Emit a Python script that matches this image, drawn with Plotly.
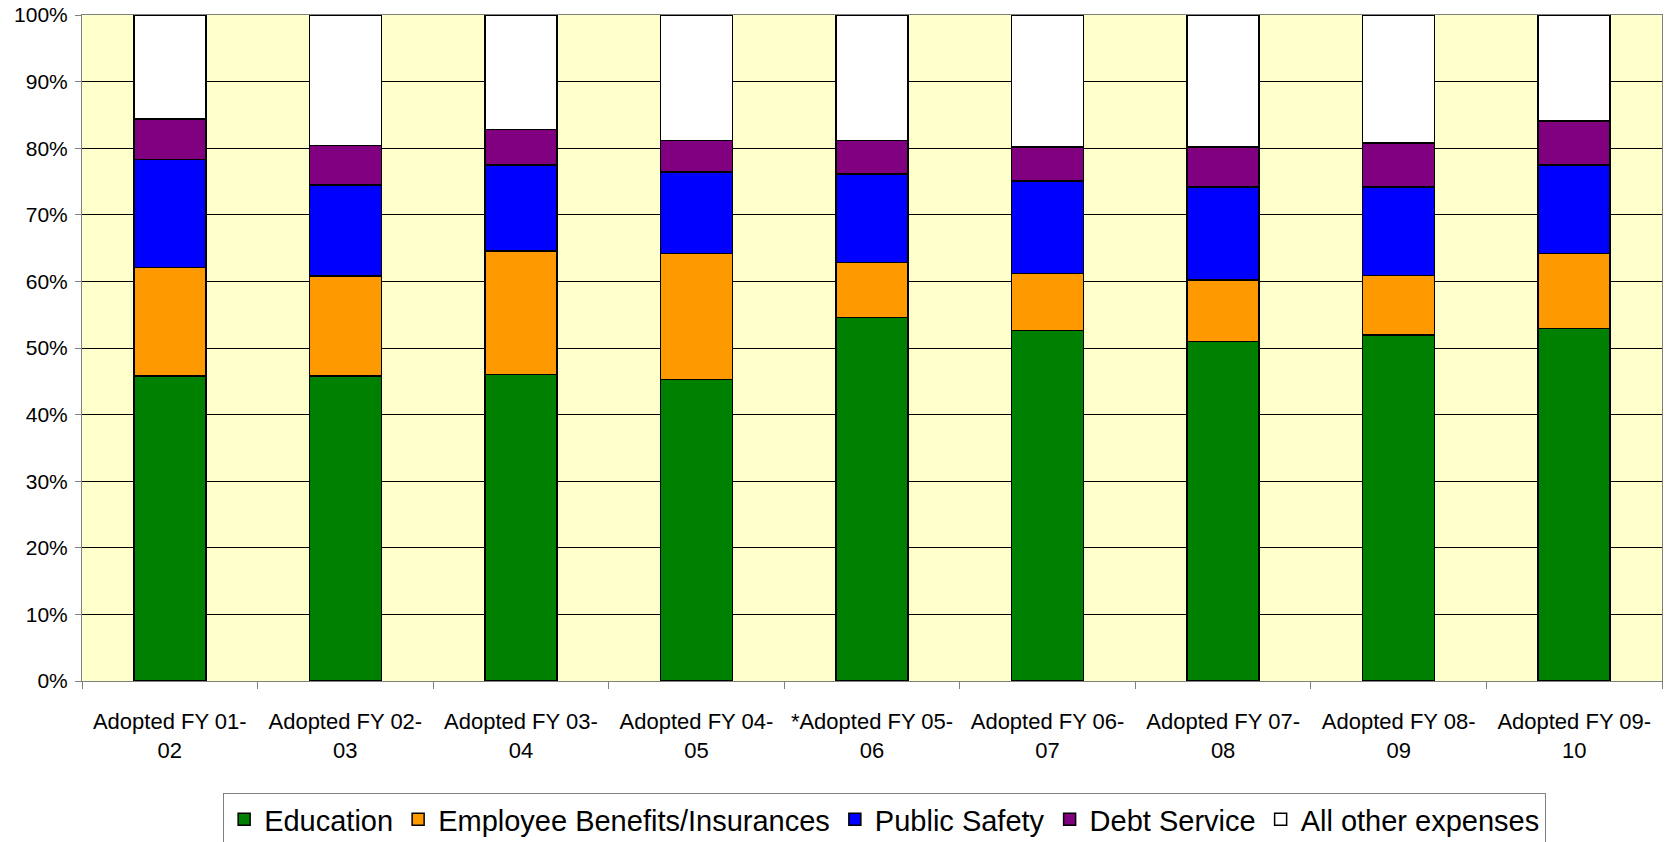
import plotly.graph_objects as go

categories = ["Adopted FY 01-<br>02", "Adopted FY 02-<br>03", "Adopted FY 03-<br>04",
              "Adopted FY 04-<br>05", "*Adopted FY 05-<br>06", "Adopted FY 06-<br>07",
              "Adopted FY 07-<br>08", "Adopted FY 08-<br>09", "Adopted FY 09-<br>10"]

education = [45.8, 45.8, 46.0, 45.3, 54.6, 52.6, 50.95, 51.95, 52.9]
benefits = [16.3, 15.0, 18.55, 18.9, 8.25, 8.6, 9.25, 8.95, 11.3]
public_safety = [16.2, 13.7, 12.95, 12.2, 13.3, 13.9, 13.95, 13.25, 13.3]
debt_service = [6.1, 5.9, 5.3, 4.75, 5.0, 5.05, 6.0, 6.6, 6.6]
other = [15.6, 19.6, 17.2, 18.85, 18.85, 19.85, 19.85, 19.25, 15.9]

y_tick_vals = [0, 10, 20, 30, 40, 50, 60, 70, 80, 90, 100]
y_tick_text = ["0%", "10%", "20%", "30%", "40%", "50%", "60%", "70%", "80%", "90%", "100%"]

series = [
    ("Education", education, "#008000"),
    ("Employee Benefits/Insurances", benefits, "#FF9900"),
    ("Public Safety", public_safety, "#0000FF"),
    ("Debt Service", debt_service, "#800080"),
    ("All other expenses", other, "#FFFFFF"),
]

fig = go.Figure()
for name, vals, col in series:
    fig.add_trace(go.Bar(
        x=categories, y=vals, name=name,
        marker=dict(color=col, line=dict(color="#000000", width=1.5)),
    ))

font_family = "Liberation Sans, Arial, sans-serif"

fig.update_layout(
    barmode="stack",
    bargap=0.59,
    width=1666, height=842,
    margin=dict(l=82, r=4, t=15, b=161, autoexpand=False),
    paper_bgcolor="#FFFFFF",
    plot_bgcolor="#FFFFCC",
    font=dict(family=font_family, size=18, color="#000000"),
    showlegend=True,
    legend=dict(
        orientation="h",
        traceorder="normal",
        x=0.508, xanchor="center",
        y=-0.168, yanchor="top",
        font=dict(family=font_family, size=29, color="#000000"),
        bordercolor="#808080", borderwidth=1,
        bgcolor="#FFFFFF",
        itemwidth=30,
    ),
)

fig.update_xaxes(
    type="category",
    automargin=False,
    showline=True, linecolor="#808080", linewidth=1, mirror=True,
    ticks="outside", ticklen=7, tickcolor="#808080", tickson="boundaries",
    showgrid=False,
    tickfont=dict(size=22),
    ticklabelstandoff=21,
)

fig.update_yaxes(
    range=[0, 100],
    automargin=False,
    tickvals=y_tick_vals,
    ticktext=y_tick_text,
    showline=True, linecolor="#808080", linewidth=1, mirror=True,
    ticks="outside", ticklen=6, tickcolor="#808080",
    showgrid=True, gridcolor="#000000", gridwidth=1,
    zeroline=False,
    tickfont=dict(size=21),
    ticklabelstandoff=3,
    ticklabeloverflow="allow",
)

fig.write_html("out.html", config={"displayModeBar": False},
               post_script="document.body.style.margin='0px';")
